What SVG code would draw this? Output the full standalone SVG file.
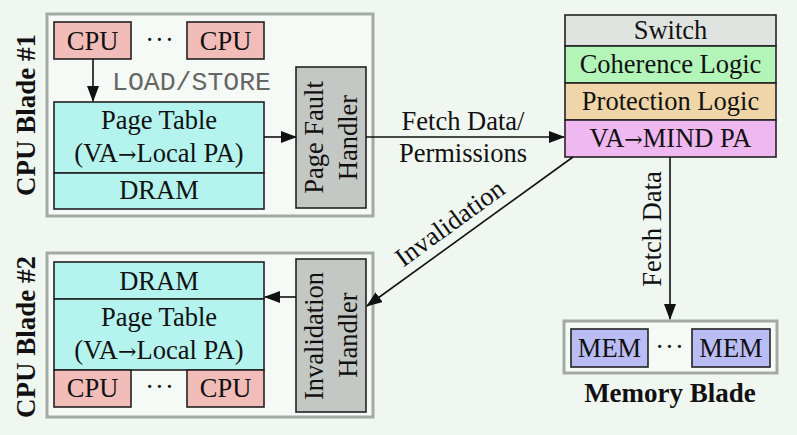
<svg xmlns="http://www.w3.org/2000/svg" width="797" height="435" viewBox="0 0 797 435">
<style>
text{font-family:"Liberation Serif","Times New Roman",serif;font-size:26.5px;fill:#111;text-anchor:middle}
.b{font-weight:bold;font-size:27px}
.mono{font-family:"Liberation Mono","Courier New",monospace;fill:#666;text-anchor:start}
.arr{font-family:"DejaVu Serif",serif;font-size:22px}
.blade{fill:#f6faf6;stroke:#a3aaa3;stroke-width:3}
.box{stroke:#222;stroke-width:1.6}
.cpu{fill:#f2bdb8}
.cyan{fill:#b4f3ee}
.hand{fill:#c4c8c4}
.mem{fill:#b9bdf3}
.conn line{stroke:#111;stroke-width:1.6}
</style>
<defs>
<marker id="ah" markerUnits="userSpaceOnUse" markerWidth="16" markerHeight="12" refX="15" refY="6" orient="auto">
<path d="M0,0 L16,6 L0,12 z" fill="#111"/>
</marker>
</defs>
<rect width="797" height="435" fill="#f0f6f0"/>

<g id="blade1">
<rect class="blade" x="47" y="14" width="326" height="202"/>
<text class="b" transform="translate(35,115) rotate(-90)">CPU Blade #1</text>
</g>
<g id="cpu1a"><rect class="box cpu" x="54" y="22" width="77" height="37"/><text x="92.5" y="50">CPU</text></g>
<text x="160" y="49" letter-spacing="1">···</text>
<g id="cpu1b"><rect class="box cpu" x="187" y="22" width="77" height="37"/><text x="225.5" y="50">CPU</text></g>
<text class="mono" x="112" y="90">LOAD/STORE</text>
<g id="pt1">
<rect class="box cyan" x="54" y="102" width="210" height="71"/>
<text x="159" y="129">Page Table</text>
<text x="159" y="162">(VA<tspan class="arr">→</tspan>Local PA)</text>
</g>
<g id="dram1"><rect class="box cyan" x="54" y="173" width="210" height="36"/><text x="159" y="199">DRAM</text></g>
<g id="pfh">
<rect class="box hand" x="296" y="67" width="70" height="141"/>
<text transform="translate(323,137.5) rotate(-90)">Page Fault</text>
<text transform="translate(357,137.5) rotate(-90)">Handler</text>
</g>

<g id="switch">
<rect class="box" fill="#dfe3df" x="565" y="15" width="211" height="31"/><text x="670.5" y="39">Switch</text>
<rect class="box" fill="#b3f5b8" x="565" y="46" width="211" height="37"/><text x="670.5" y="73">Coherence Logic</text>
<rect class="box" fill="#f0d5a8" x="565" y="83" width="211" height="37"/><text x="670.5" y="110">Protection Logic</text>
<rect class="box" fill="#f0b8f0" x="565" y="120" width="211" height="37"/><text x="670.5" y="147">VA<tspan class="arr">→</tspan>MIND PA</text>
</g>

<g id="blade2">
<rect class="blade" x="47" y="253" width="326" height="164"/>
<text class="b" transform="translate(35,337) rotate(-90)">CPU Blade #2</text>
</g>
<g id="dram2"><rect class="box cyan" x="54" y="262" width="210" height="37"/><text x="159" y="290">DRAM</text></g>
<g id="pt2">
<rect class="box cyan" x="54" y="299" width="210" height="71"/>
<text x="159" y="326">Page Table</text>
<text x="159" y="359">(VA<tspan class="arr">→</tspan>Local PA)</text>
</g>
<g id="cpu2a"><rect class="box cpu" x="54" y="370" width="77" height="37"/><text x="92.5" y="397">CPU</text></g>
<text x="160" y="396" letter-spacing="1">···</text>
<g id="cpu2b"><rect class="box cpu" x="187" y="370" width="77" height="37"/><text x="225.5" y="397">CPU</text></g>
<g id="ih">
<rect class="box hand" x="296" y="259" width="70" height="153"/>
<text transform="translate(323,336) rotate(-90)">Invalidation</text>
<text transform="translate(357,335) rotate(-90)">Handler</text>
</g>

<g id="memblade">
<rect class="blade" x="564" y="321" width="213" height="52"/>
<rect class="box mem" x="571" y="329" width="77" height="38"/><text x="609.5" y="357">MEM</text>
<text x="670" y="356" letter-spacing="1">···</text>
<rect class="box mem" x="692" y="329" width="78" height="38"/><text x="731" y="357">MEM</text>
<text class="b" x="670" y="402">Memory Blade</text>
</g>

<g id="connectors" class="conn">
<line x1="93" y1="59" x2="93" y2="101" marker-end="url(#ah)"/>
<line x1="264" y1="137" x2="296" y2="137" marker-end="url(#ah)"/>
<line x1="366" y1="137" x2="564" y2="137" marker-end="url(#ah)"/>
<line x1="573" y1="157" x2="367" y2="306" marker-end="url(#ah)"/>
<line x1="296" y1="297" x2="265" y2="297" marker-end="url(#ah)"/>
<line x1="670" y1="157" x2="670" y2="319" marker-end="url(#ah)"/>
</g>
<text x="463" y="130">Fetch Data/</text>
<text x="463" y="162">Permissions</text>
<text transform="translate(455,230) rotate(-36)">Invalidation</text>
<text transform="translate(661,229) rotate(-90)">Fetch Data</text>
</svg>
